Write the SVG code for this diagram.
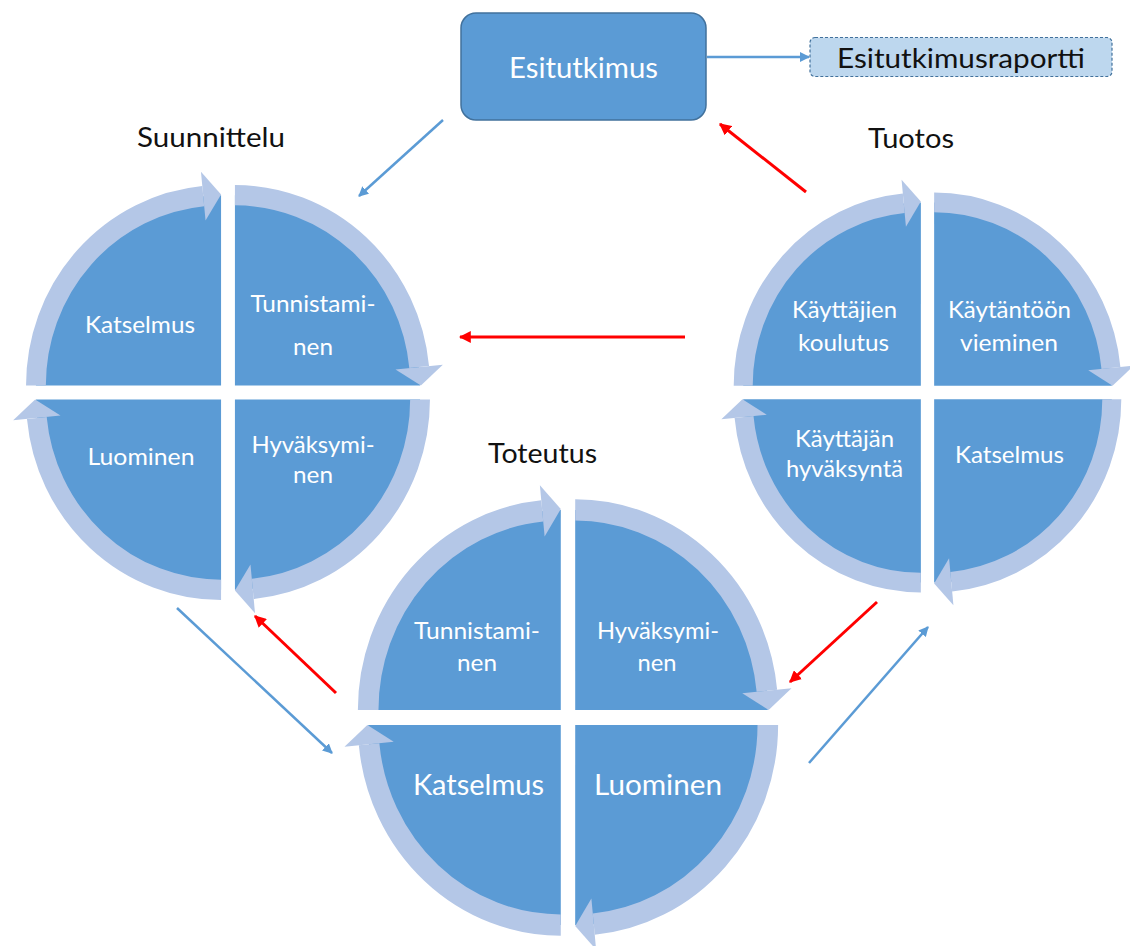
<svg xmlns="http://www.w3.org/2000/svg" xmlns:xlink="http://www.w3.org/1999/xlink" width="1130" height="946" viewBox="0 0 1130 946">
  <style>
    .seg { fill: #5B9BD5; }
    .ring { fill: none; stroke: #B4C7E7; stroke-width: 20; stroke-linecap: butt; }
    .head { fill: #B4C7E7; }
    .lbl { font-family: Lato, "Liberation Sans", sans-serif; fill: #FFFFFF; text-anchor: middle; }
    .ttl { font-family: Lato, "Liberation Sans", sans-serif; fill: #111111; text-anchor: middle; font-size: 26px; }
    .blue { fill: none; stroke: #5B9BD5; stroke-width: 2.5; }
    .red { fill: none; stroke: #FF0000; stroke-width: 3; }
  </style>
  <defs>
    <!-- one quarter of a cycle: pie segment with a circular arrow along its rim (top-left orientation) -->
    <g id="quarter">
      <path class="seg" d="M -7 -7 L -194 -7 A 187 187 0 0 1 -7 -194 Z"/>
      <path class="ring" d="M -194 -7 A 187 187 0 0 1 -25 -193.1"/>
      <polygon class="head" points="-27.3,-217 -7,-194.8 -22.7,-169.2"/>
    </g>
    <g id="cycle">
      <use xlink:href="#quarter"/>
      <use xlink:href="#quarter" transform="rotate(90)"/>
      <use xlink:href="#quarter" transform="rotate(180)"/>
      <use xlink:href="#quarter" transform="rotate(270)"/>
    </g>
    <marker id="arrBlue" viewBox="0 0 10 10" refX="9" refY="5" markerWidth="4" markerHeight="4" orient="auto" markerUnits="strokeWidth">
      <path d="M0,0 L10,5 L0,10 z" fill="#5B9BD5"/>
    </marker>
    <marker id="arrRed" viewBox="0 0 10 10" refX="9" refY="5" markerWidth="4" markerHeight="4" orient="auto" markerUnits="strokeWidth">
      <path d="M0,0 L10,5 L0,10 z" fill="#FF0000"/>
    </marker>
  </defs>

  <rect width="1130" height="946" fill="#FFFFFF"/>

  <!-- Pre-study box and its report -->
  <g id="esitutkimus">
    <rect x="461" y="13" width="245" height="107" rx="15" fill="#5B9BD5" stroke="#41719C" stroke-width="1.5"/>
    <text class="lbl" x="583.5" y="78" font-size="29" textLength="149" lengthAdjust="spacingAndGlyphs">Esitutkimus</text>
  </g>
  <g id="raportti">
    <rect x="810" y="37.5" width="302" height="39" rx="5" fill="#BDD7EE" stroke="#41719C" stroke-width="1.2" stroke-dasharray="3 2"/>
    <text class="ttl" x="961" y="68" font-size="27" textLength="248" lengthAdjust="spacingAndGlyphs">Esitutkimusraportti</text>
  </g>

  <!-- Suunnittelu cycle -->
  <g id="suunnittelu">
    <text class="ttl" x="211" y="147" textLength="148" lengthAdjust="spacingAndGlyphs">Suunnittelu</text>
    <use xlink:href="#cycle" transform="translate(228,392.5) scale(0.99,1.017)"/>
    <text class="lbl" x="140" y="333" font-size="24" textLength="110" lengthAdjust="spacingAndGlyphs">Katselmus</text>
    <text class="lbl" x="313" y="312" font-size="24" textLength="125" lengthAdjust="spacingAndGlyphs">Tunnistami-</text>
    <text class="lbl" x="313" y="355" font-size="24" textLength="40" lengthAdjust="spacingAndGlyphs">nen</text>
    <text class="lbl" x="141" y="465" font-size="24" textLength="107" lengthAdjust="spacingAndGlyphs">Luominen</text>
    <text class="lbl" x="313" y="453" font-size="24" textLength="123" lengthAdjust="spacingAndGlyphs">Hyväksymi-</text>
    <text class="lbl" x="313" y="483" font-size="24" textLength="40" lengthAdjust="spacingAndGlyphs">nen</text>
  </g>

  <!-- Tuotos cycle -->
  <g id="tuotos">
    <text class="ttl" x="911" y="148" textLength="86" lengthAdjust="spacingAndGlyphs">Tuotos</text>
    <use xlink:href="#cycle" transform="translate(927.5,392.5) scale(0.95,0.98)"/>
    <text class="lbl" x="844.5" y="318" font-size="23" textLength="105" lengthAdjust="spacingAndGlyphs">Käyttäjien</text>
    <text class="lbl" x="843.5" y="351" font-size="23" textLength="91" lengthAdjust="spacingAndGlyphs">koulutus</text>
    <text class="lbl" x="1009.5" y="318" font-size="23" textLength="123" lengthAdjust="spacingAndGlyphs">Käytäntöön</text>
    <text class="lbl" x="1009" y="351" font-size="23" textLength="98" lengthAdjust="spacingAndGlyphs">vieminen</text>
    <text class="lbl" x="844.5" y="447" font-size="23" textLength="99" lengthAdjust="spacingAndGlyphs">Käyttäjän</text>
    <text class="lbl" x="844.5" y="477" font-size="23" textLength="117" lengthAdjust="spacingAndGlyphs">hyväksyntä</text>
    <text class="lbl" x="1009.5" y="463" font-size="23" textLength="109" lengthAdjust="spacingAndGlyphs">Katselmus</text>
  </g>

  <!-- Toteutus cycle -->
  <g id="toteutus">
    <text class="ttl" x="542.5" y="463" textLength="109" lengthAdjust="spacingAndGlyphs">Toteutus</text>
    <use xlink:href="#cycle" transform="translate(568,717.5) scale(1.03,1.07)"/>
    <text class="lbl" x="477" y="639" font-size="24" textLength="126" lengthAdjust="spacingAndGlyphs">Tunnistami-</text>
    <text class="lbl" x="477" y="671" font-size="24" textLength="40" lengthAdjust="spacingAndGlyphs">nen</text>
    <text class="lbl" x="658" y="639" font-size="24" textLength="122" lengthAdjust="spacingAndGlyphs">Hyväksymi-</text>
    <text class="lbl" x="657" y="671" font-size="24" textLength="39" lengthAdjust="spacingAndGlyphs">nen</text>
    <text class="lbl" x="478.5" y="795" font-size="28" textLength="131" lengthAdjust="spacingAndGlyphs">Katselmus</text>
    <text class="lbl" x="658" y="795" font-size="28" textLength="128" lengthAdjust="spacingAndGlyphs">Luominen</text>
  </g>

  <!-- Connectors: blue = forward flow, red = return flow -->
  <g id="connectors">
    <line class="blue" x1="707" y1="57" x2="809" y2="57" marker-end="url(#arrBlue)"/>
    <line class="blue" x1="443" y1="120" x2="359" y2="196" marker-end="url(#arrBlue)"/>
    <line class="blue" x1="177" y1="608" x2="332" y2="753" marker-end="url(#arrBlue)"/>
    <line class="blue" x1="809" y1="763" x2="928" y2="627" marker-end="url(#arrBlue)"/>
    <line class="red" x1="806" y1="192" x2="720" y2="124" marker-end="url(#arrRed)"/>
    <line class="red" x1="685" y1="337" x2="460" y2="337" marker-end="url(#arrRed)"/>
    <line class="red" x1="336" y1="693" x2="255" y2="616" marker-end="url(#arrRed)"/>
    <line class="red" x1="877" y1="602" x2="790" y2="682" marker-end="url(#arrRed)"/>
  </g>
</svg>
